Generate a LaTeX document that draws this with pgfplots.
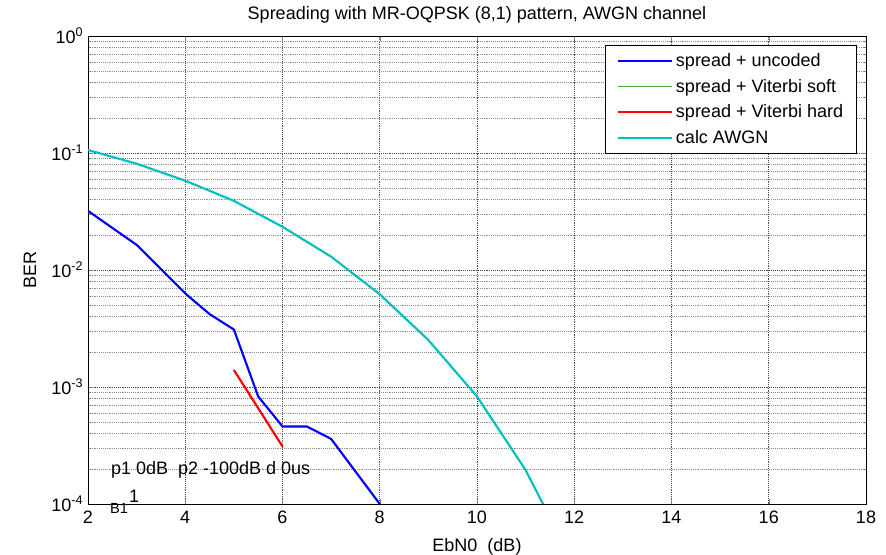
\documentclass[border=0pt]{standalone}
\usepackage{pgfplots}
\pgfplotsset{compat=1.18}
\usepackage{fontspec}
\setmainfont{Liberation Sans}

\definecolor{mblue}{RGB}{0,0,255}
\definecolor{mgreen}{RGB}{70,165,70}
\definecolor{mred}{RGB}{255,0,0}
\definecolor{mcyan}{RGB}{0,191,191}

\newcommand{\tfont}{\fontsize{13.5}{15.5}\selectfont}

\begin{document}
\begin{tikzpicture}
\useasboundingbox (-66pt,-38.25pt) rectangle (598.5pt,378pt);
\begin{axis}[
  at={(0,0)}, anchor=south west,
  scale only axis,
  width=583.5pt, height=351pt,
  xmin=2, xmax=18,
  ymode=log, ymin=1e-4, ymax=1,
  xtick={2,4,...,18},
  ytick={1e-4,1e-3,1e-2,1e-1,1},
  yticklabels={10\textsuperscript{-4},10\textsuperscript{-3},10\textsuperscript{-2},10\textsuperscript{-1},10\textsuperscript{0}},
  /pgf/number format/assume math mode=true,
  tick label style={font=\tfont},
  xticklabel style={yshift=-2pt},
  tick pos=both,
  tick align=inside,
  major tick length=4pt,
  minor tick length=2.5pt,
  grid=both,
  major grid style={densely dotted, black!70, line width=0.4pt},
  minor grid style={densely dotted, black!45, line width=0.4pt},
  axis line style={black, line width=0.7pt},
  title={Spreading with MR-OQPSK (8,1) pattern, AWGN channel},
  title style={font=\tfont, at={(axis description cs:0.5,1.028)}, anchor=center},
  xlabel={EbN0\ \ (dB)},
  xlabel style={font=\tfont, at={(axis description cs:0.5,-0.092)}, anchor=center},
  ylabel={BER},
  ylabel style={font=\tfont, at={(axis description cs:-0.0746,0.5)}, anchor=center},
  clip mode=individual,
  legend cell align=left,
  legend style={font=\tfont, at={(axis description cs:1,1)}, anchor=north east,
    xshift=-6.75pt, yshift=-6.75pt, draw=black, line width=0.6pt,
    row sep=4pt, inner xsep=8pt, inner ysep=4pt},
  legend image code/.code={\draw[#1] (0pt,0pt) -- (41pt,0pt);},
]

\addplot[mblue, line width=1.6pt] coordinates {
(2,0.032) (3,0.0164) (4,0.0063) (4.5,0.0042) (5,0.0031) (5.5,0.00083)
(6,0.00046) (6.5,0.00046) (7,0.00036) (8,0.0001)
};
\addlegendentry{spread + uncoded}

\addlegendimage{mgreen, line width=0.9pt}
\addlegendentry{spread + Viterbi soft}

\addplot[mred, line width=1.6pt] coordinates {
(5,0.0014) (6,0.00031)
};
\addlegendentry{spread + Viterbi hard}

\addplot[mcyan, line width=1.6pt] coordinates {
(2,0.106) (3,0.081) (4,0.058) (5,0.039) (6,0.0234) (7,0.0130)
(8,0.0062) (9,0.00252) (10,0.00083) (11,0.000195) (12,0.00003)
};
\addlegendentry{calc AWGN}

\node[anchor=west, font=\tfont, inner sep=0pt] at (axis cs:2.47,1.95e-4) {p1 0dB\ \ p2 -100dB d 0us};
\node[anchor=center, font=\fontsize{11}{13}\selectfont, inner sep=0pt] at (axis cs:2.64,0.92e-4) {B1};
\node[anchor=center, font=\tfont, inner sep=0pt] at (axis cs:2.95,1.17e-4) {1};
\end{axis}
\end{tikzpicture}
\end{document}
